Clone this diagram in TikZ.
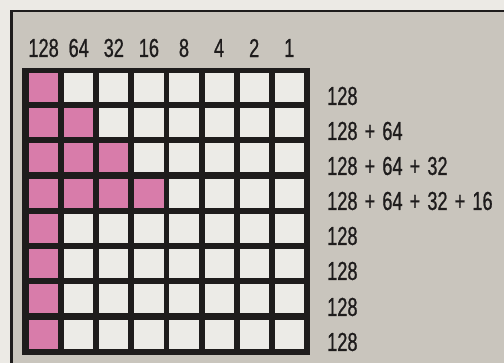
\documentclass[tikz,border=0pt]{standalone}
\usepackage{fontspec}
\setmainfont{Liberation Sans}[FakeStretch=0.7, WordSpace=1.4, FakeBold=0.8]
\usetikzlibrary{positioning,calc}

\definecolor{paper}{RGB}{236,234,229}
\definecolor{board}{RGB}{201,197,189}
\definecolor{cell}{RGB}{236,235,231}
\definecolor{ink}{RGB}{30,28,28}
\definecolor{lit}{RGB}{216,124,170}

\begin{document}
\begin{tikzpicture}[x=1pt,y=-1pt,
  lbl/.style={font=\fontsize{26}{26}\selectfont, text=ink, inner sep=0pt}]

\useasboundingbox (0,0) rectangle (504,363);
\clip (0,0) rectangle (504,363);
\fill[paper] (0,0) rectangle (504,363);

% the board
\fill[board] (11.5,11) rectangle (520,380);
\draw[ink, line width=2.5pt] (11.5,380) -- (11.5,11) -- (520,11);

% grid
\fill[ink] (22,68) rectangle (310,355);
\foreach \r in {0,...,7}
  \foreach \c in {0,...,7}
    \fill[cell] ({29+35.1*\c},{72.7+35.3*\r}) rectangle +(29.2,29);

% lit cells
\foreach \r/\n in {0/0,1/1,2/2,3/3,4/0,5/0,6/0,7/0}
  \foreach \c in {0,...,\n}
    \fill[lit] ({29+35.1*\c},{72.7+35.3*\r}) rectangle +(29.2,29);

% bit values
\foreach \v [count=\i from 0] in {128,64,32,16,8,4,2,1}
  \node[lbl] (bit\i) at ({43.6+35.1*\i},48) {\v};

% row sums
\node[lbl, anchor=west] (sum1) at (327,96) {128};
\node[lbl, anchor=west] (sum2) at (327,131) {128 + 64};
\node[lbl, anchor=west] (sum3) at (327,166) {128 + 64 + 32};
\node[lbl, anchor=west] (sum4) at (327,201) {128 + 64 + 32 + 16};
\node[lbl, anchor=west] (sum5) at (327,236) {128};
\node[lbl, anchor=west] (sum6) at (327,271) {128};
\node[lbl, anchor=west] (sum7) at (327,307) {128};
\node[lbl, anchor=west] (sum8) at (327,342) {128};

\end{tikzpicture}
\end{document}
